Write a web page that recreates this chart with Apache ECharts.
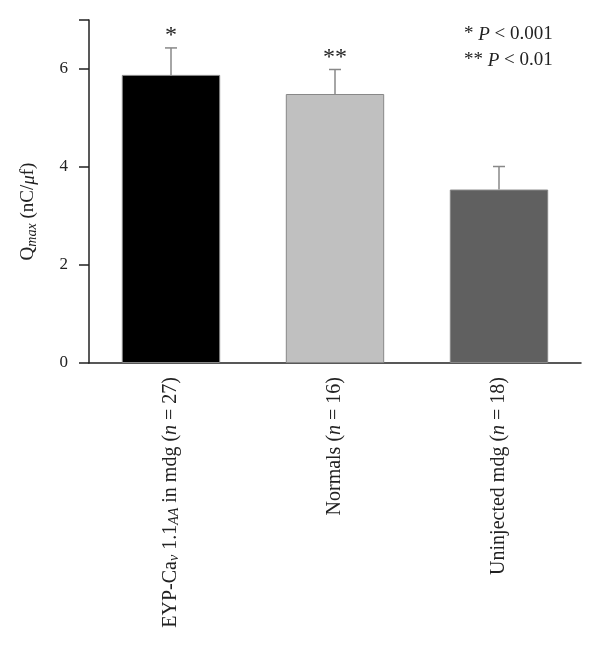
<!DOCTYPE html>
<html><head><meta charset="utf-8">
<script src="https://cdn.jsdelivr.net/npm/echarts@6/dist/echarts.min.js"></script>
<style>html,body{margin:0;padding:0;background:#fff}#c{width:600px;height:653px}</style>
</head><body><div id="c"></div>
<script>
const categories = ['{t|EYP-Ca}{s|v}{t| 1.1}{s|AA}{t| in mdg (}{i|n}{t| = 27)}', '{t|Normals (}{i|n}{t| = 16)}', '{t|Uninjected mdg (}{i|n}{t| = 18)}'];
const means = [5.88, 5.49, 3.54];
const errTop = [6.43, 5.99, 4.01];
const marks = ['*', '**', ''];
const barColors = ['#000000', '#c0c0c0', '#606060'];
const yTicks = [0, 2, 4, 6];

const font = 'Liberation Serif';
const chart = echarts.init(document.getElementById('c'));
chart.setOption({
  animation: false,
  grid: { left: 89, right: 19, top: 20, bottom: 290 },
  xAxis: {
    type: 'category', data: categories,
    axisLine: { lineStyle: { color: '#222', width: 1.5 } },
    axisTick: { show: false },
    axisLabel: {
      rotate: 90, margin: 14, color: '#222',
      rich: {
        t: { fontFamily: font, fontSize: 20, color: '#222' },
        i: { fontFamily: font, fontSize: 20, fontStyle: 'italic', color: '#222' },
        s: { fontFamily: font, fontSize: 14, fontStyle: 'italic', color: '#222', verticalAlign: 'bottom', padding: [7, 0, 0, 0] }
      }
    }
  },
  yAxis: {
    type: 'value', min: 0, max: 7, interval: 2,
    splitLine: { show: false },
    axisLine: { show: true, lineStyle: { color: '#222', width: 1.5 } },
    axisTick: { show: true, length: 10, lineStyle: { color: '#222', width: 1.5 } },
    axisLabel: {
      margin: 21, fontFamily: font, fontSize: 17, color: '#222',
      formatter: v => yTicks.includes(v) ? String(v) : ''
    },
    name: '{t|Q}{s|max}{t| (nC/}{i|μ}{t|f)}',
    nameLocation: 'middle', nameRotate: 90, nameGap: 50,
    nameTextStyle: {
      padding: [0, 40, 0, 0],
      rich: {
        t: { fontFamily: font, fontSize: 19, color: '#222' },
        i: { fontFamily: font, fontSize: 19, fontStyle: 'italic', color: '#222' },
        s: { fontFamily: font, fontSize: 14, fontStyle: 'italic', color: '#222', verticalAlign: 'bottom', padding: [7, 0, 0, 0] }
      }
    }
  },
  series: [
    {
      type: 'bar', barWidth: '60%',
      data: means.map((v, i) => ({ value: v, itemStyle: { color: barColors[i], borderColor: '#888', borderWidth: 1 } })),
      z: 2
    },
    {
      type: 'custom', z: 3,
      data: means.map((v, i) => [i, v, errTop[i]]),
      renderItem: (params, api) => {
        const x = api.value(0);
        const p0 = api.coord([x, api.value(1)]);
        const p1 = api.coord([x, api.value(2)]);
        const cap = 6;
        const ch = [
          { type: 'line', shape: { x1: p0[0], y1: p0[1], x2: p1[0], y2: p1[1] }, style: { stroke: '#888', lineWidth: 1.5 } },
          { type: 'line', shape: { x1: p1[0] - cap, y1: p1[1], x2: p1[0] + cap, y2: p1[1] }, style: { stroke: '#888', lineWidth: 1.5 } }
        ];
        const m = marks[params.dataIndex];
        if (m) ch.push({ type: 'text', x: p1[0], y: p1[1], style: { text: m, fontFamily: font, fontSize: 24, fill: '#222', align: 'center', verticalAlign: 'bottom' } });
        return { type: 'group', children: ch };
      }
    }
  ],
  graphic: [
    { type: 'text', left: 464, top: 25, style: { text: '{t|* }{i|P}{t| < 0.001}', rich: { t: { fontFamily: font, fontSize: 19, fill: '#222' }, i: { fontFamily: font, fontSize: 19, fontStyle: 'italic', fill: '#222' } } } },
    { type: 'text', left: 464, top: 51, style: { text: '{t|** }{i|P}{t| < 0.01}', rich: { t: { fontFamily: font, fontSize: 19, fill: '#222' }, i: { fontFamily: font, fontSize: 19, fontStyle: 'italic', fill: '#222' } } } }
  ]
});
</script></body></html>
